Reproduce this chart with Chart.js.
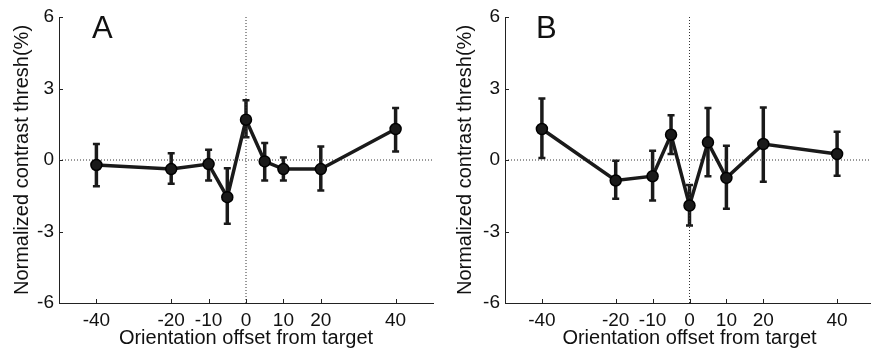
<!DOCTYPE html>
<html>
<head>
<meta charset="utf-8">
<script src="https://cdn.jsdelivr.net/npm/chart.js@4"></script>
<style>
  html, body { margin: 0; padding: 0; background: #fff; overflow: hidden; }
  #wrap { position: relative; width: 871px; height: 352px; overflow: hidden; }
  canvas { position: absolute; top: 0; }
  .letter { position: absolute; top: 10px; font: 31px "Liberation Sans", Arial, sans-serif; color: #111; }
</style>
</head>
<body>
<div id="wrap">
  <canvas id="js--chart--a" width="440" height="352" style="left:0;width:440px;height:352px"></canvas>
  <canvas id="js--chart--b" width="441" height="352" style="left:440px;width:441px;height:352px"></canvas>
  <div class="letter" style="left:92px">A</div>
  <div class="letter" style="left:536px">B</div>
</div>
<script>
/* data */
const offsets = [-40, -20, -10, -5, 0, 5, 10, 20, 40];
const xTicks = [-40, -20, -10, 0, 10, 20, 40];
const yTicks = [-6, -3, 0, 3, 6];

const meanA = [-0.21, -0.38, -0.17, -1.56, 1.69, -0.06, -0.38, -0.38, 1.30];
const lowA  = [-1.10, -1.00, -0.86, -2.68, 0.95, -0.86, -0.86, -1.28, 0.36];
const highA = [0.67, 0.28, 0.43, -0.35, 2.51, 0.71, 0.11, 0.57, 2.18];

const meanB = [1.30, -0.86, -0.68, 1.06, -1.91, 0.74, -0.75, 0.67, 0.25];
const lowB  = [0.08, -1.63, -1.70, 0.25, -2.75, -0.68, -2.05, -0.91, -0.66];
const highB = [2.58, -0.03, 0.39, 1.88, -1.05, 2.18, 0.60, 2.20, 1.19];

const fontFam = '"Liberation Sans", Arial, sans-serif';

// foutbalken + ticks naar binnen
const errorBars = {
    id: 'errorBars',
    beforeDatasetsDraw(chart) {
        const ctx = chart.ctx;
        const xs = chart.scales.x, ys = chart.scales.y;
        const eb = chart.options.plugins.errorBars;
        ctx.save();
        ctx.strokeStyle = '#1a1a1a';
        for (let i = 0; i < offsets.length; i++) {
            const px = xs.getPixelForValue(offsets[i]);
            const top = ys.getPixelForValue(eb.high[i]);
            const bot = ys.getPixelForValue(eb.low[i]);
            ctx.lineWidth = 3.5;
            ctx.beginPath();
            ctx.moveTo(px, top);
            ctx.lineTo(px, bot);
            ctx.stroke();
            ctx.lineWidth = 2.5;
            ctx.beginPath();
            ctx.moveTo(px - 3.5, top); ctx.lineTo(px + 3.5, top);
            ctx.moveTo(px - 3.5, bot); ctx.lineTo(px + 3.5, bot);
            ctx.stroke();
        }
        ctx.restore();
    },
    afterDraw(chart) {
        const ctx = chart.ctx;
        const xs = chart.scales.x, ys = chart.scales.y;
        const area = chart.chartArea;
        ctx.save();
        ctx.strokeStyle = '#222';
        ctx.lineWidth = 1;
        ctx.beginPath();
        xTicks.forEach(function(t) {
            const px = Math.round(xs.getPixelForValue(t)) + 0.5;
            ctx.moveTo(px, area.bottom);
            ctx.lineTo(px, area.bottom - 4);
        });
        yTicks.forEach(function(t) {
            const py = Math.round(ys.getPixelForValue(t)) + 0.5;
            ctx.moveTo(area.left, py);
            ctx.lineTo(area.left + 4, py);
        });
        ctx.stroke();
        ctx.restore();
    }
};

function makeChart(id, mean, low, high, yAxisWidth, padRight, titlePad) {
    const points = offsets.map(function(x, i) { return {x: x, y: mean[i]}; });
    const config = {
        type: 'scatter',
        data: {
            datasets: [
                {
                    data: points,
                    showLine: true,
                    borderColor: '#1a1a1a',
                    borderWidth: 3.5,
                    pointRadius: 5.5,
                    pointBackgroundColor: '#1a1a1a',
                    pointBorderColor: '#000',
                    pointBorderWidth: 1.5,
                    order: 0
                },
                {
                    data: [{x: -50, y: 0}, {x: 50, y: 0}],
                    showLine: true,
                    borderColor: '#333',
                    borderWidth: 1,
                    borderDash: [1, 2],
                    pointRadius: 0,
                    order: 1
                },
                {
                    data: [{x: 0, y: -6}, {x: 0, y: 6}],
                    showLine: true,
                    borderColor: '#333',
                    borderWidth: 1,
                    borderDash: [1, 2],
                    pointRadius: 0,
                    order: 1
                }
            ]
        },
        options: {
            responsive: false,
            animation: false,
            layout: { padding: { left: 0, right: padRight, top: 17, bottom: 0 } },
            plugins: {
                legend: { display: false },
                tooltip: { enabled: false },
                errorBars: { low: low, high: high }
            },
            scales: {
                x: {
                    type: 'linear',
                    min: -50,
                    max: 50,
                    afterBuildTicks: function(s) { s.ticks = xTicks.map(function(v) { return {value: v}; }); },
                    afterFit: function(s) { s.height = 49; },
                    grid: { display: false, drawTicks: false },
                    border: { display: true, color: '#222', width: 1 },
                    ticks: { color: '#111', padding: 6, maxRotation: 0, autoSkip: false, font: { family: fontFam, size: 19 } },
                    title: {
                        display: true,
                        text: 'Orientation offset from target',
                        color: '#111',
                        padding: { top: 0, bottom: 2 },
                        font: { family: fontFam, size: 20 }
                    }
                },
                y: {
                    min: -6,
                    max: 6,
                    afterBuildTicks: function(s) { s.ticks = yTicks.map(function(v) { return {value: v}; }); },
                    afterFit: function(s) { s.width = yAxisWidth; },
                    grid: { display: false, drawTicks: false },
                    border: { display: true, color: '#222', width: 1 },
                    ticks: { color: '#111', padding: 5, font: { family: fontFam, size: 19 } },
                    title: {
                        display: true,
                        text: 'Normalized contrast thresh(%)',
                        color: '#111',
                        padding: { top: titlePad, bottom: 0 },
                        font: { family: fontFam, size: 20 }
                    }
                }
            }
        },
        plugins: [errorBars]
    };
    return new Chart(document.getElementById(id), config);
}

makeChart('js--chart--a', meanA, lowA, highA, 59, 5, 10);
makeChart('js--chart--b', meanB, lowB, highB, 65, 0, 13);
</script>
</body>
</html>
